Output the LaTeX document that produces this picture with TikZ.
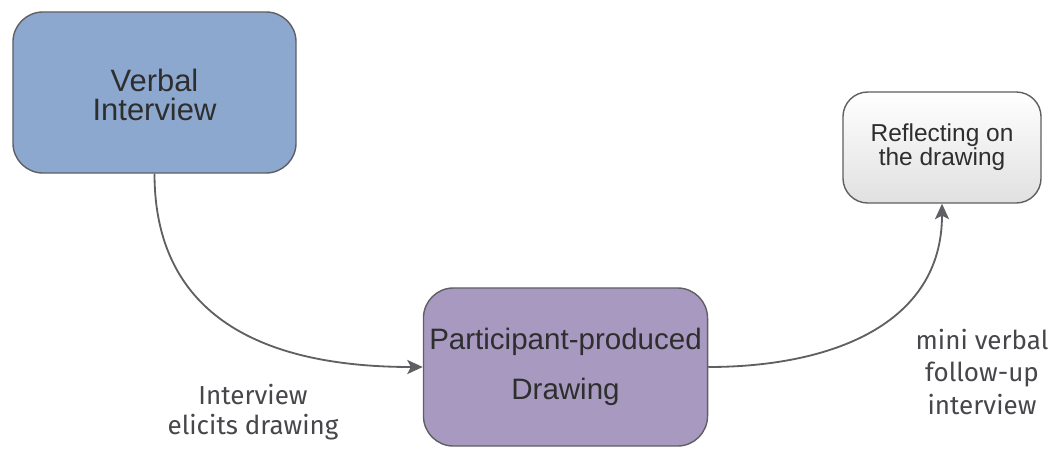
\documentclass[tikz,border=0pt]{standalone}
\usepackage{fontspec}
\setmainfont{Liberation Sans}
\newfontfamily\notefont{Fira Sans}
\usetikzlibrary{positioning,arrows.meta}
\definecolor{verbalblue}{RGB}{141,168,207}
\definecolor{drawpurple}{RGB}{168,153,192}
\definecolor{edgegray}{RGB}{95,95,100}
\definecolor{textgray}{RGB}{70,70,75}
\tikzset{stage/.style={draw=edgegray,line width=1pt,rounded corners=0.75cm,inner sep=0pt,align=center,text=black!82}}
\tikzset{flow/.style={draw=edgegray,line width=1.3pt,-{Stealth[length=11pt,width=10pt,inset=2.5pt]}}}
\tikzset{note/.style={font=\notefont\fontsize{18.5}{21.5}\selectfont,text=textgray,align=center}}

\begin{document}
\begin{tikzpicture}[x=0.025cm,y=-0.025cm]
	\useasboundingbox (0,0) rectangle (1051,448);
	%%
	\node[stage,fill=verbalblue,minimum width=7.075cm,minimum height=4.025cm,font=\fontsize{22}{20.6}\selectfont] (verbal) at (154.5,92.5) {\rule{0pt}{20pt}Verbal\\Interview};
	\node[stage,fill=drawpurple,minimum width=7.1cm,minimum height=3.95cm,font=\fontsize{21}{35.6}\selectfont] (drawing) at (565.5,367) {Participant-produced\\Drawing};
	\node[stage,top color=white,bottom color=black!12,rounded corners=0.62cm,minimum width=4.95cm,minimum height=2.775cm,font=\fontsize{17.4}{17.1}\selectfont] (reflect) at (942,147.5) {Reflecting on\\the drawing};
	
	\node[note] (elicit) at (253,412) {Interview\\elicits drawing};
	\node[note,font=\notefont\fontsize{18.5}{22.8}\selectfont] (mini) at (982,372) {mini verbal\\follow-up\\interview};
	
	\draw[flow] (verbal.south) .. controls (154.5,300) and (240,367) .. (drawing.west);
	\draw[flow] (drawing.east) .. controls (830,367) and (942,325) .. (reflect.south);

\end{tikzpicture}
\end{document}
